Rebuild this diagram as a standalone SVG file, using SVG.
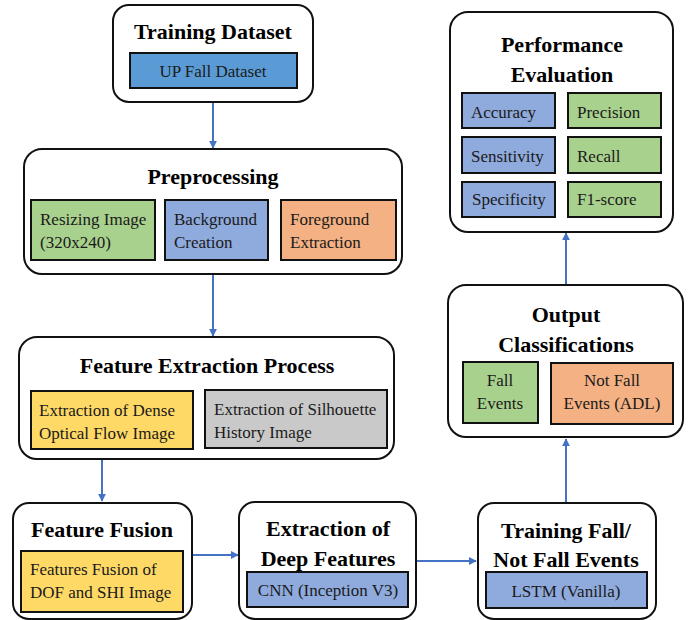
<svg xmlns="http://www.w3.org/2000/svg" width="689" height="620" viewBox="0 0 689 620">
<defs>
<marker id="ah" viewBox="0 0 10 10" refX="9" refY="5" markerWidth="4" markerHeight="4" orient="auto" markerUnits="strokeWidth">
<path d="M0,0 L10,5 L0,10 z" fill="#4472C4"/>
</marker>
</defs>
<style>
.outer{fill:#fff;stroke:#111;stroke-width:2}
.inner{stroke:#111;stroke-width:2}
.t{font-weight:bold;font-size:22px;fill:#000;text-anchor:middle}
.b{font-size:17px;fill:#1a1a1a}
.c{text-anchor:middle}
.blue{fill:#5B9BD5}
.lblue{fill:#8FAADC}
.green{fill:#A9D18E}
.orange{fill:#F4B183}
.yellow{fill:#FFD966}
.gray{fill:#C9C9C9}
.conn{stroke:#4472C4;stroke-width:2;fill:none;marker-end:url(#ah)}
</style>
<g id="connectors">
<line class="conn" x1="213" y1="102" x2="213" y2="148"/>
<line class="conn" x1="213" y1="274" x2="213" y2="336"/>
<line class="conn" x1="102" y1="459" x2="102" y2="501"/>
<line class="conn" x1="192" y1="555" x2="238" y2="555"/>
<line class="conn" x1="416" y1="561" x2="476" y2="561"/>
<line class="conn" x1="566" y1="503" x2="566" y2="439"/>
<line class="conn" x1="566" y1="285" x2="566" y2="233"/>
</g>
<g id="training-dataset">
<rect class="outer" x="113" y="5" width="200" height="97" rx="16"/>
<text class="t" font-family="Liberation Serif" x="213" y="39">Training Dataset</text>
<rect class="inner blue" x="130" y="53" width="167" height="35"/>
<text class="b c" font-family="Liberation Serif" x="213" y="77">UP Fall Dataset</text>
</g>
<g id="preprocessing">
<rect class="outer" x="24" y="149" width="378" height="125" rx="18"/>
<text class="t" font-family="Liberation Serif" x="213" y="184">Preprocessing</text>
<rect class="inner green" x="31" y="200" width="124" height="60"/>
<text class="b" font-family="Liberation Serif" x="40" y="225">Resizing Image</text>
<text class="b" font-family="Liberation Serif" x="40" y="248">(320x240)</text>
<rect class="inner lblue" x="165" y="200" width="103" height="60"/>
<text class="b" font-family="Liberation Serif" x="174" y="225">Background</text>
<text class="b" font-family="Liberation Serif" x="174" y="248">Creation</text>
<rect class="inner orange" x="281" y="200" width="115" height="60"/>
<text class="b" font-family="Liberation Serif" x="290" y="225">Foreground</text>
<text class="b" font-family="Liberation Serif" x="290" y="248">Extraction</text>
</g>
<g id="feature-extraction">
<rect class="outer" x="19" y="337" width="375" height="122" rx="18"/>
<text class="t" font-family="Liberation Serif" x="207" y="373">Feature Extraction Process</text>
<rect class="inner yellow" x="31" y="391" width="162" height="58"/>
<text class="b" font-family="Liberation Serif" x="39" y="416">Extraction of Dense</text>
<text class="b" font-family="Liberation Serif" x="39" y="439">Optical Flow Image</text>
<rect class="inner gray" x="205" y="390" width="182" height="58"/>
<text class="b" font-family="Liberation Serif" x="214" y="415">Extraction of Silhouette</text>
<text class="b" font-family="Liberation Serif" x="214" y="438">History Image</text>
</g>
<g id="feature-fusion">
<rect class="outer" x="13" y="503" width="179" height="116" rx="16"/>
<text class="t" font-family="Liberation Serif" x="102" y="537">Feature Fusion</text>
<rect class="inner yellow" x="21" y="551" width="162" height="61"/>
<text class="b" font-family="Liberation Serif" x="30" y="575">Features Fusion of</text>
<text class="b" font-family="Liberation Serif" x="30" y="598">DOF and SHI Image</text>
</g>
<g id="deep-features">
<rect class="outer" x="239" y="502" width="177" height="117" rx="16"/>
<text class="t" font-family="Liberation Serif" x="328" y="536">Extraction of</text>
<text class="t" font-family="Liberation Serif" x="328" y="566">Deep Features</text>
<rect class="inner lblue" x="247" y="572" width="161" height="35"/>
<text class="b c" font-family="Liberation Serif" x="328" y="596">CNN (Inception V3)</text>
</g>
<g id="training-fall">
<rect class="outer" x="478" y="503" width="178" height="116" rx="16"/>
<text class="t" font-family="Liberation Serif" x="566" y="538">Training Fall/</text>
<text class="t" font-family="Liberation Serif" x="566" y="567">Not Fall Events</text>
<rect class="inner lblue" x="486" y="572" width="161" height="36"/>
<text class="b c" font-family="Liberation Serif" x="566" y="597">LSTM (Vanilla)</text>
</g>
<g id="output-classifications">
<rect class="outer" x="448" y="285" width="235" height="152" rx="18"/>
<text class="t" font-family="Liberation Serif" x="566" y="322">Output</text>
<text class="t" font-family="Liberation Serif" x="566" y="352">Classifications</text>
<rect class="inner green" x="463" y="362" width="75" height="61"/>
<text class="b c" font-family="Liberation Serif" x="500" y="386">Fall</text>
<text class="b c" font-family="Liberation Serif" x="500" y="409">Events</text>
<rect class="inner orange" x="551" y="363" width="122" height="61"/>
<text class="b c" font-family="Liberation Serif" x="612" y="386">Not Fall</text>
<text class="b c" font-family="Liberation Serif" x="612" y="409">Events (ADL)</text>
</g>
<g id="performance-evaluation">
<rect class="outer" x="450" y="12" width="223" height="220" rx="18"/>
<text class="t" font-family="Liberation Serif" x="562" y="52">Performance</text>
<text class="t" font-family="Liberation Serif" x="562" y="82">Evaluation</text>
<rect class="inner lblue" x="462" y="93" width="93" height="35"/>
<text class="b" font-family="Liberation Serif" x="471" y="118">Accuracy</text>
<rect class="inner green" x="568" y="93" width="93" height="35"/>
<text class="b" font-family="Liberation Serif" x="577" y="118">Precision</text>
<rect class="inner lblue" x="462" y="137" width="93" height="36"/>
<text class="b" font-family="Liberation Serif" x="471" y="162">Sensitivity</text>
<rect class="inner green" x="568" y="137" width="93" height="36"/>
<text class="b" font-family="Liberation Serif" x="577" y="162">Recall</text>
<rect class="inner lblue" x="462" y="182" width="93" height="35"/>
<text class="b" font-family="Liberation Serif" x="472" y="205">Specificity</text>
<rect class="inner green" x="568" y="182" width="93" height="35"/>
<text class="b" font-family="Liberation Serif" x="577" y="205">F1-score</text>
</g>
</svg>
